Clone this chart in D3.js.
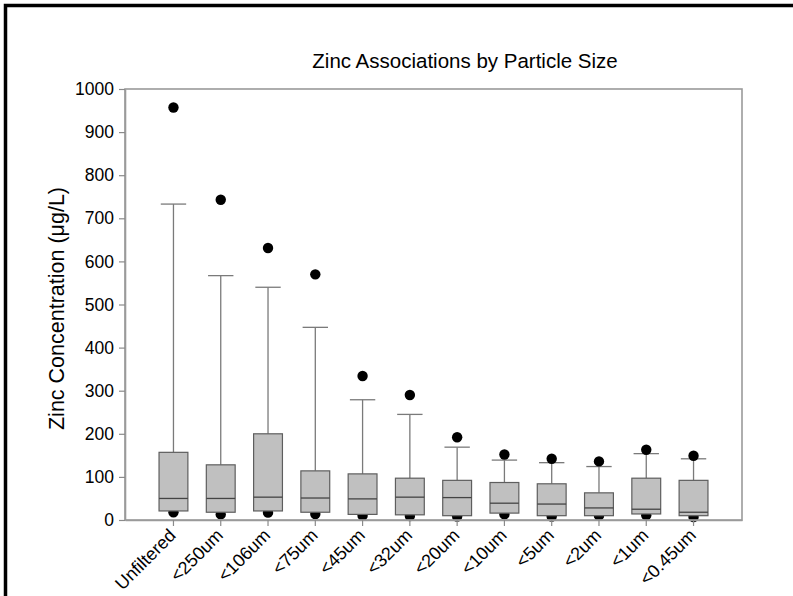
<!DOCTYPE html>
<html>
<head>
<meta charset="utf-8">
<script src="https://cdn.jsdelivr.net/npm/d3@7"></script>
<style>
  body { margin: 0; background: #fff; }
  text { font-family: Arial, "Liberation Sans", sans-serif; fill: #000; }
</style>
</head>
<body>
<script>
// data
const categories = ['Unfiltered', '<250um', '<106um', '<75um', '<45um', '<32um',
                    '<20um', '<10um', '<5um', '<2um', '<1um', '<0.45um'];
const q1Values      = [21, 18, 21, 18, 13, 12, 10, 16, 10, 10, 14, 10];
const medianValues  = [50, 50, 53, 51, 49, 53, 52, 39, 37, 28, 25, 18];
const q3Values      = [157, 128, 200, 114, 107, 97, 92, 87, 84, 63, 97, 92];
const upperWhiskers = [733, 567, 540, 447, 279, 245, 169, 139, 133, 124, 154, 142];
const upperOutliers = [957, 743, 631, 570, 334, 290, 192, 152, 142, 136, 163, 149];
const lowerOutliers = [18, 13, 17, 14, 10, 9, 8, 13, 8, 10, 11, 7];
const yTicks = [0, 100, 200, 300, 400, 500, 600, 700, 800, 900, 1000];

const chart = {width: 793, height: 596, left: 125, right: 742, top: 89, bottom: 520};

const data = categories.map((c, i) => ({
  name: c,
  q1: q1Values[i],
  median: medianValues[i],
  q3: q3Values[i],
  hi: upperWhiskers[i],
  outHi: upperOutliers[i],
  outLo: lowerOutliers[i]
}));

const svg = d3.select('body').append('svg')
  .attr('width', chart.width)
  .attr('height', chart.height);

const xScale = d3.scaleBand()
  .domain(categories)
  .range([chart.left, chart.right])
  .paddingInner(0.39)
  .paddingOuter(0.72);

const yScale = d3.scaleLinear()
  .domain([0, 1000])
  .range([chart.bottom, chart.top]);

const bw = xScale.bandwidth();
const capW = bw * 0.88;
const cx = d => xScale(d.name) + bw / 2;

// page border (top + left only)
svg.append('path')
  .attr('d', `M5.5,${chart.height} V5.5 H${chart.width}`)
  .attr('fill', 'none')
  .attr('stroke', '#000')
  .attr('stroke-width', 3.5);

// title
svg.append('text')
  .attr('x', 465)
  .attr('y', 68)
  .attr('text-anchor', 'middle')
  .attr('font-size', '20.5px')
  .text('Zinc Associations by Particle Size');

// lower dots sit under the boxes
svg.append('g').selectAll('circle')
  .data(data)
  .join('circle')
    .attr('cx', cx)
    .attr('cy', d => yScale(d.outLo))
    .attr('r', 5.2)
    .attr('fill', '#000');

const base = svg.append('g').selectAll('g')
  .data(data)
  .join('g');

// whisker
base.append('line')
  .attr('x1', cx).attr('x2', cx)
  .attr('y1', d => yScale(d.q3))
  .attr('y2', d => yScale(d.hi))
  .attr('stroke', '#7a7a7a')
  .attr('stroke-width', 1.3);

base.append('line')
  .attr('x1', d => cx(d) - capW / 2)
  .attr('x2', d => cx(d) + capW / 2)
  .attr('y1', d => yScale(d.hi))
  .attr('y2', d => yScale(d.hi))
  .attr('stroke', '#7a7a7a')
  .attr('stroke-width', 1.3);

// box
base.append('rect')
  .attr('x', d => xScale(d.name))
  .attr('width', bw)
  .attr('y', d => yScale(d.q3))
  .attr('height', d => yScale(d.q1) - yScale(d.q3))
  .attr('fill', '#c0c0c0')
  .attr('stroke', '#5e5e5e')
  .attr('stroke-width', 1.2);

base.append('line')
  .attr('x1', d => xScale(d.name))
  .attr('x2', d => xScale(d.name) + bw)
  .attr('y1', d => yScale(d.median))
  .attr('y2', d => yScale(d.median))
  .attr('stroke', '#444')
  .attr('stroke-width', 1.3);

// top outliers
base.append('circle')
  .attr('cx', cx)
  .attr('cy', d => yScale(d.outHi))
  .attr('r', 5.2)
  .attr('fill', '#000');

// frame
svg.append('rect')
  .attr('x', chart.left)
  .attr('y', chart.top)
  .attr('width', chart.right - chart.left)
  .attr('height', chart.bottom - chart.top)
  .attr('fill', 'none')
  .attr('stroke', '#9a9a9a')
  .attr('stroke-width', 1.6);

// axes
const yAxis = svg.append('g')
  .attr('transform', `translate(${chart.left},0)`)
  .call(d3.axisLeft(yScale).tickValues(yTicks).tickFormat(d3.format('d'))
    .tickSize(6).tickPadding(5).tickSizeOuter(0));

const xAxis = svg.append('g')
  .attr('transform', `translate(0,${chart.bottom})`)
  .call(d3.axisBottom(xScale).tickSize(6).tickSizeOuter(0));

[yAxis, xAxis].forEach(ax => {
  ax.select('.domain').attr('stroke', '#9a9a9a').attr('stroke-width', 1.6);
  ax.selectAll('.tick line').attr('stroke', '#8a8a8a').attr('stroke-width', 1.2);
  ax.selectAll('.tick text').attr('font-size', '17.5px').attr('font-family', 'Arial, "Liberation Sans", sans-serif').attr('fill', '#000');
});

xAxis.selectAll('.tick text')
  .attr('x', 0)
  .attr('y', 0)
  .attr('text-anchor', 'end')
  .attr('dy', '0.35em')
  .attr('font-size', '18px')
  .attr('transform', 'translate(-1,12) rotate(-45)');

// y label
svg.append('text')
  .attr('transform', `translate(64,${(chart.top + chart.bottom) / 2 + 4}) rotate(-90)`)
  .attr('text-anchor', 'middle')
  .attr('font-size', '21.5px')
  .text('Zinc Concentration (μg/L)');
</script>
</body>
</html>
